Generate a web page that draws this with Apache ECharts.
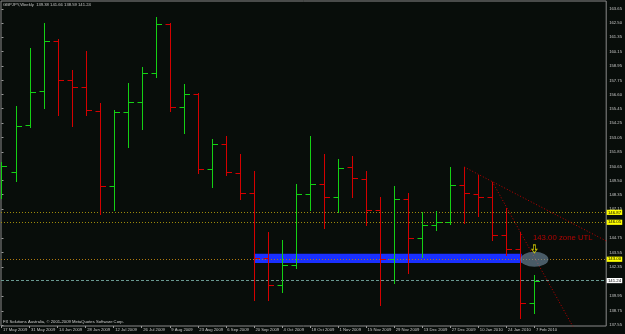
<!DOCTYPE html>
<html><head><meta charset="utf-8">
<script src="https://cdn.jsdelivr.net/npm/echarts@6/dist/echarts.min.js"></script>
<style>html,body{margin:0;padding:0;background:#080d0a;}#c{width:625px;height:334px;}</style>
</head><body><div id="c"></div>
<script>
// ---- data ----
const weeks = ['17 May 2009','24 May 2009','31 May 2009','7 Jun 2009','14 Jun 2009','21 Jun 2009','28 Jun 2009',
  '5 Jul 2009','12 Jul 2009','19 Jul 2009','26 Jul 2009','2 Aug 2009','9 Aug 2009','16 Aug 2009','23 Aug 2009',
  '30 Aug 2009','6 Sep 2009','13 Sep 2009','20 Sep 2009','27 Sep 2009','4 Oct 2009','11 Oct 2009','18 Oct 2009',
  '25 Oct 2009','1 Nov 2009','8 Nov 2009','15 Nov 2009','22 Nov 2009','29 Nov 2009','6 Dec 2009','13 Dec 2009',
  '20 Dec 2009','27 Dec 2009','3 Jan 2010','10 Jan 2010','17 Jan 2010','24 Jan 2010','31 Jan 2010','7 Feb 2010'];
const opens  = [149.95,150.20,154.05,156.86,160.98,157.76,157.19,155.23,149.04,155.12,156.00,158.34,162.43,155.56,156.66,
  150.42,152.48,150.14,148.44,143.10,140.88,142.53,148.41,149.21,148.16,150.59,149.62,147.06,143.02,148.00,144.73,
  145.83,146.05,149.13,148.38,148.16,145.03,143.82,139.38];
const highs  = [151.05,155.64,160.40,162.52,161.15,158.61,160.21,155.92,155.31,157.54,158.89,163.01,162.47,157.46,156.69,
  152.90,153.17,151.68,150.28,145.25,144.59,149.21,153.17,151.68,151.27,151.52,150.26,148.11,149.04,148.44,146.87,
  146.98,150.61,150.61,149.95,149.40,147.25,145.22,141.66];
const lows   = [148.09,149.48,153.94,155.45,154.88,154.02,154.88,146.71,147.06,152.24,153.75,158.06,155.26,153.39,150.09,
  148.94,149.98,148.00,139.64,139.64,140.30,142.28,147.06,145.58,146.90,148.16,145.83,139.22,141.02,141.89,143.21,
  145.41,145.88,145.97,146.57,144.59,143.35,138.18,138.59];
const closes = [150.69,153.99,156.77,160.98,157.76,157.19,155.29,149.02,155.12,155.95,158.34,162.43,155.54,156.66,150.42,
  152.48,150.17,148.44,143.10,140.88,142.53,148.38,149.21,148.11,150.53,149.68,147.06,143.02,148.00,144.73,145.80,
  146.05,149.13,148.44,148.16,145.03,143.82,139.38,141.24];
const dateTickLabels = ['17 May 2009','31 May 2009','14 Jun 2009','28 Jun 2009','12 Jul 2009','26 Jul 2009','9 Aug 2009',
  '23 Aug 2009','6 Sep 2009','20 Sep 2009','4 Oct 2009','18 Oct 2009','1 Nov 2009','15 Nov 2009','29 Nov 2009',
  '13 Dec 2009','27 Dec 2009','10 Jan 2010','24 Jan 2010','7 Feb 2010'];
const priceTicks = [137.55,138.75,139.95,142.35,143.55,144.75,147.15,148.35,149.50,150.65,151.85,153.05,154.25,
  155.45,156.60,157.75,158.95,160.15,161.35,162.50,163.65];
const levelLines = [146.87, 146.05, 143.00];
const bidPrice = 141.24;
const zoneBand = [142.70, 143.45];        // blue band price range
const zoneBandWeeks = [18, 37.1];         // week index range of band
const trend1 = [[33, 150.61], [43.2, 144.46]];
const trend2 = [[35, 149.40], [41.6, 135.67]];
const zoneMark = {week: 38, price: 143.00, arrowPrice: 143.85, textPrice: 144.75, text: '143.00 zone UTL'};
const headerText = 'GBPJPY,Weekly  139.38 141.66 138.59 141.24';
const footerText = 'FX Solutions Australia, © 2001-2009 MetaQuotes Software Corp.';

// ---- chart ----
const UP = '#14d014', DOWN = '#d40000';
const FONT = 'Liberation Sans';
const labelIdx = dateTickLabels.map(d => weeks.indexOf(d));
const barData = weeks.map((w, i) => [i, opens[i], highs[i], lows[i], closes[i]]);
const chart = echarts.init(document.getElementById('c'), null, {renderer: 'canvas'});

function renderBar(params, api) {
  const i = api.value(0), o = api.value(1), h = api.value(2), l = api.value(3), c = api.value(4);
  const ph = api.coord([i, h]), pl = api.coord([i, l]), po = api.coord([i, o]), pc = api.coord([i, c]);
  const x = Math.round(ph[0]) + 0.5;
  const color = c >= o ? UP : DOWN;
  const st = {stroke: color, lineWidth: 1};
  const yo = Math.round(po[1]) + 0.5, yc = Math.round(pc[1]) + 0.5;
  return {type: 'group', children: [
    {type: 'line', shape: {x1: x, y1: Math.round(ph[1]), x2: x, y2: Math.round(pl[1]) + 1}, style: st},
    {type: 'line', shape: {x1: x - 5, y1: yo, x2: x, y2: yo}, style: st},
    {type: 'line', shape: {x1: x, y1: yc, x2: x + 5.5, y2: yc}, style: st}
  ]};
}

const smallLabel = (txt, bg) => ({
  show: true, position: 'end', distance: 0.5, formatter: txt, backgroundColor: bg, color: '#000',
  fontSize: 4.3, fontFamily: FONT, padding: [0.4, 1.2], lineHeight: 4.4
});

const option = {
  backgroundColor: '#080d0a',
  animation: false,
  grid: {left: 1, right: 16, top: 1, bottom: 8, show: true, borderColor: '#8a8a8a', borderWidth: 1},
  xAxis: {
    type: 'value', min: -0.0355, max: 43.12,
    axisLine: {show: false}, splitLine: {show: false},
    axisTick: {show: true, customValues: labelIdx, length: 2, lineStyle: {color: '#9a9a9a'}},
    axisLabel: {customValues: labelIdx, color: '#c8c8c8', fontSize: 4.2, fontFamily: FONT, align: 'left', margin: 2,
      padding: [0, 0, 0, 1.5],
      formatter: v => { const k = labelIdx.indexOf(Math.round(v)); return k >= 0 ? dateTickLabels[k] : ''; }}
  },
  yAxis: {
    type: 'value', position: 'right', min: 137.492, max: 164.307,
    axisLine: {show: false}, splitLine: {show: false},
    axisTick: {show: true, customValues: priceTicks, length: 2, lineStyle: {color: '#9a9a9a'}},
    axisLabel: {customValues: priceTicks, color: '#c8c8c8', fontSize: 4.2, fontFamily: FONT, margin: 3,
      formatter: v => v.toFixed(2)}
  },
  series: [
    {
      type: 'custom', name: 'GBPJPY', renderItem: renderBar, data: barData, clip: true,
      encode: {x: 0, y: [1, 2, 3, 4]}, z: 5,
      markArea: {silent: true, itemStyle: {color: '#1a30ff'},
        data: [[{xAxis: zoneBandWeeks[0], yAxis: zoneBand[0]}, {xAxis: zoneBandWeeks[1], yAxis: zoneBand[1]}]]},
      markLine: {
        silent: true, symbol: 'none', animation: false,
        data: [
          {yAxis: levelLines[0], lineStyle: {color: '#9c8a0c', type: [1, 2], width: 1}, label: smallLabel(levelLines[0].toFixed(2), '#ffff00')},
          {yAxis: levelLines[1], lineStyle: {color: '#9c8a0c', type: [1, 2], width: 1}, label: smallLabel(levelLines[1].toFixed(2), '#ffff00')},
          {yAxis: levelLines[2], lineStyle: {color: '#b07a10', type: [1, 2], width: 1}, label: smallLabel(levelLines[2].toFixed(2), '#ffff00')},
          {yAxis: bidPrice, lineStyle: {color: '#6a9a92', type: [3, 2], width: 1}, label: smallLabel(bidPrice.toFixed(2), '#ffffff')}
        ]
      }
    },
    {type: 'line', data: trend1, symbol: 'none', clip: true, z: 6,
      lineStyle: {color: '#c00000', width: 1, type: [1, 2]}},
    {type: 'line', data: trend2, symbol: 'none', clip: true, z: 6,
      lineStyle: {color: '#c00000', width: 1, type: [1, 2]}},
    {type: 'scatter', data: [[zoneMark.week, zoneMark.price]], symbol: 'circle', symbolSize: [28, 15], z: 7,
      itemStyle: {color: 'rgba(112,140,160,0.78)'}},
    {type: 'scatter', data: [[zoneMark.week, zoneMark.arrowPrice]], z: 8,
      symbol: 'path://M3,0 L7,0 L7,6 L10,6 L5,11 L0,6 L3,6 Z', symbolSize: [5, 8],
      itemStyle: {color: 'rgba(0,0,0,0)', borderColor: '#e8e000', borderWidth: 1}},
    {type: 'scatter', data: [[zoneMark.week, zoneMark.textPrice]], symbolSize: 0, z: 8,
      label: {show: true, position: 'right', distance: -1.5, formatter: zoneMark.text, color: '#e00000',
        fontSize: 7.8, fontFamily: FONT}}
  ],
  graphic: [
    {type: 'text', left: 3, top: 2.5, style: {text: headerText, fill: '#c8c8c8', font: '4.2px ' + FONT}},
    {type: 'text', left: 3, top: 319.5, style: {text: footerText, fill: '#d0d0d0', font: '4.2px ' + FONT}}
  ]
};
chart.setOption(option);
</script>
</body></html>
